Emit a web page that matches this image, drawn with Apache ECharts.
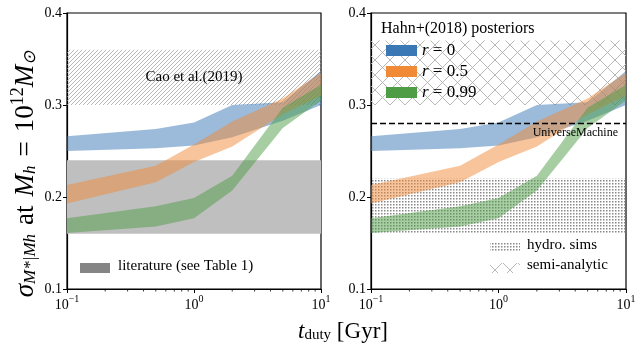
<!DOCTYPE html>
<html style="height:100%;width:100%;">
<head>
  <meta charset="utf-8">
  <title>sigma vs t_duty</title>
  <script src="https://cdn.jsdelivr.net/npm/echarts@6/dist/echarts.min.js"></script>
</head>
<body style="margin:0px;height:100%;width:100%;background:#fff;">
  <div id="main" style="width:642px;height:351px"></div>
  <script type="text/javascript" charset="utf-8">
    // data
    var tDuty = [0.1, 0.5, 1, 2, 5, 10]; // Gyr
    var r0Low = [0.250, 0.253, 0.256, 0.265, 0.283, 0.300];
    var r0High = [0.266, 0.274, 0.281, 0.300, 0.303, 0.337];
    var r05Low = [0.193, 0.216, 0.238, 0.255, 0.290, 0.310];
    var r05High = [0.213, 0.234, 0.257, 0.282, 0.307, 0.335];
    var r099Low = [0.161, 0.168, 0.177, 0.207, 0.275, 0.305];
    var r099High = [0.177, 0.190, 0.199, 0.223, 0.297, 0.322];
    var bandNames = ['r = 0', 'r = 0.5', 'r = 0.99'];
    var bandColors = ['#3a78b5', '#f08a37', '#4e9d45'];

    var litRange = [0.16, 0.24]; // literature (see Table 1)
    var caoRange = [0.30, 0.36]; // Cao et al.(2019)
    var hydroRange = [0.16, 0.22]; // hydro. sims
    var samRange = [0.30, 0.37]; // semi-analytic
    var umValue = 0.28; // UniverseMachine

    var minorX = [0.2, 0.3, 0.4, 0.5, 0.6, 0.7, 0.8, 0.9, 2, 3, 4, 5, 6, 7, 8, 9];
    var yTicks = [0.1, 0.2, 0.3, 0.4];

    var FONT = 'Liberation Serif';

    // hatch patterns
    function makePattern(kind) {
      var c = document.createElement('canvas');
      var ctx = c.getContext('2d');
      if (kind == 'diag') {
        c.width = 4; c.height = 4;
        ctx.strokeStyle = '#9a9a9a';
        ctx.lineWidth = 0.7;
        ctx.beginPath();
        ctx.moveTo(-1, 5); ctx.lineTo(5, -1);
        ctx.moveTo(-1, 1); ctx.lineTo(1, -1);
        ctx.moveTo(3, 5); ctx.lineTo(5, 3);
        ctx.stroke();
      } else if (kind == 'cross') {
        c.width = 15; c.height = 15;
        ctx.strokeStyle = '#b0b0b0';
        ctx.lineWidth = 0.9;
        ctx.beginPath();
        ctx.moveTo(0, 0); ctx.lineTo(15, 15);
        ctx.moveTo(15, 0); ctx.lineTo(0, 15);
        ctx.stroke();
      } else {
        c.width = 3; c.height = 3;
        ctx.fillStyle = '#888888';
        ctx.fillRect(0, 0, 1.5, 1.5);
      }
      return { image: c, repeat: 'repeat' };
    }
    var diagPat = makePattern('diag');
    var crossPat = makePattern('cross');
    var dotPat = makePattern('dot');

    var myChart = echarts.init(document.getElementById('main'));

    var lows = [r0Low, r05Low, r099Low];
    var highs = [r0High, r05High, r099High];

    var series = [];
    [0, 1].forEach(function (g) {
      // reference regions
      var areas = g == 0 ? [
        { range: litRange, color: '#bfbfbf', label: '' },
        { range: caoRange, color: diagPat, label: 'Cao et al.(2019)' }
      ] : [
        { range: hydroRange, color: dotPat, label: '' },
        { range: samRange, color: crossPat, label: '' }
      ];
      series.push({
        type: 'line',
        name: 'regions' + g,
        xAxisIndex: g,
        yAxisIndex: g,
        data: [],
        z: 1,
        silent: true,
        markArea: {
          silent: true,
          data: areas.map(function (a) {
            return [{
              yAxis: a.range[0],
              itemStyle: { color: a.color, opacity: 1 },
              label: {
                show: !!a.label, position: 'inside', formatter: a.label,
                color: '#000', fontFamily: FONT, fontSize: 15
              }
            }, { yAxis: a.range[1] }];
          })
        },
        markLine: g == 1 ? {
          silent: true,
          symbol: 'none',
          data: [{ yAxis: umValue }],
          lineStyle: { color: '#000', type: [6, 3], width: 1.3 },
          label: {
            position: 'insideEndBottom', formatter: 'UniverseMachine',
            color: '#000', fontFamily: FONT, fontSize: 12, distance: [8, 3]
          }
        } : undefined
      });
      // bands: one polygon per band, corners from the axes' coord()
      bandNames.forEach(function (name, k) {
        var lo = lows[k], hi = highs[k];
        series.push({
          type: 'custom', name: name, xAxisIndex: g, yAxisIndex: g,
          color: bandColors[k],
          data: tDuty.map(function (x, i) { return [x, lo[i], hi[i]]; }),
          encode: { x: 0, y: [1, 2] },
          renderItem: function (params, api) {
            if (params.dataIndex !== 0) return null;
            var pts = [];
            for (var i = 0; i < tDuty.length; i++) pts.push(api.coord([tDuty[i], hi[i]]));
            for (var j = tDuty.length - 1; j >= 0; j--) pts.push(api.coord([tDuty[j], lo[j]]));
            return {
              type: 'polygon',
              shape: { points: pts },
              style: { fill: bandColors[k], opacity: 0.5 }
            };
          },
          clip: true, z: 2, silent: true
        });
      });
      // minor ticks on the log axis
      series.push({
        type: 'custom', xAxisIndex: g, yAxisIndex: g, clip: false, silent: true,
        data: minorX.map(function (v) { return [v, yTicks[0]]; }),
        renderItem: function (params, api) {
          var p = api.coord([api.value(0), api.value(1)]);
          return {
            type: 'line',
            shape: { x1: p[0], y1: p[1], x2: p[0], y2: p[1] + 2.5 },
            style: { stroke: '#000', lineWidth: 0.8 }
          };
        },
        z: 5
      });
    });

    function supLabel(v) {
      var e = Math.round(Math.log10(v));
      return '{b|10}{s|' + (e < 0 ? '\u2212' + (-e) : e) + '}';
    }

    function xAxis(g) {
      return {
        type: 'log', logBase: 10, min: 0.1, max: 10, gridIndex: g,
        axisLine: { show: true, onZero: false, lineStyle: { color: '#000', width: 1.2 } },
        axisTick: { show: true, length: 4, lineStyle: { color: '#000', width: 1 } },
        splitLine: { show: false },
        axisLabel: {
          margin: 5, formatter: supLabel, color: '#000',
          rich: {
            b: { fontFamily: FONT, fontSize: 14, color: '#000', verticalAlign: 'bottom', lineHeight: 18 },
            s: { fontFamily: FONT, fontSize: 10, color: '#000', verticalAlign: 'top', padding: [0, 0, 8, 0], lineHeight: 18 }
          }
        }
      };
    }
    function yAxis(g) {
      return {
        type: 'value', min: 0.1, max: 0.4, interval: 0.1, gridIndex: g,
        axisLine: { show: true, lineStyle: { color: '#000', width: 1.2 } },
        axisTick: { show: true, length: 4, lineStyle: { color: '#000', width: 1 } },
        splitLine: { show: false },
        axisLabel: {
          margin: 5, color: '#000', fontFamily: FONT, fontSize: 14,
          formatter: function (v) { return v.toFixed(1); }
        }
      };
    }

    var option = {
      animation: false,
      grid: [
        { left: 67, top: 13, width: 254, height: 276, show: true, borderColor: '#000', borderWidth: 1.2, backgroundColor: 'transparent' },
        { left: 371, top: 13, width: 255, height: 276, show: true, borderColor: '#000', borderWidth: 1.2, backgroundColor: 'transparent' }
      ],
      xAxis: [xAxis(0), xAxis(1)],
      yAxis: [yAxis(0), yAxis(1)],
      legend: {
        data: bandNames.map(function (n, k) {
          return { name: n, icon: 'rect', itemStyle: { color: bandColors[k], opacity: 1 } };
        }),
        orient: 'vertical',
        left: 381, top: 37,
        itemWidth: 31, itemHeight: 11, itemGap: 4,
        selectedMode: false,
        formatter: function (n) {
          return '{i|r}{n|' + n.slice(1) + '}';
        },
        textStyle: {
          rich: {
            i: { fontFamily: FONT, fontStyle: 'italic', fontSize: 17, color: '#000', lineHeight: 17 },
            n: { fontFamily: FONT, fontSize: 17, color: '#000', lineHeight: 17 }
          }
        }
      },
      graphic: [
        {
          type: 'text', left: 381, top: 21, z: 10,
          style: { text: 'Hahn+(2018) posteriors', font: '16px ' + FONT, fill: '#000' }
        },
        { type: 'rect', shape: { x: 80, y: 263, width: 30, height: 10 }, style: { fill: '#858585' } },
        {
          type: 'text', left: 118, top: 259,
          style: { text: 'literature (see Table 1)', font: '15px ' + FONT, fill: '#000' }
        },
        { type: 'rect', shape: { x: 490, y: 243, width: 30, height: 9 }, style: { fill: dotPat } },
        {
          type: 'text', left: 527, top: 238,
          style: { text: 'hydro. sims', font: '15px ' + FONT, fill: '#000' }
        },
        { type: 'rect', shape: { x: 490, y: 263, width: 30, height: 10 }, style: { fill: crossPat } },
        {
          type: 'text', left: 527, top: 258,
          style: { text: 'semi-analytic', font: '15px ' + FONT, fill: '#000' }
        },
        {
          type: 'text', x: 343, y: 330,
          style: {
            text: '{t|t}{d|duty}{g| [Gyr]}',
            align: 'center', verticalAlign: 'middle',
            rich: {
              t: { fontFamily: FONT, fontStyle: 'italic', fontSize: 23, color: '#000', verticalAlign: 'bottom', lineHeight: 26 },
              d: { fontFamily: FONT, fontSize: 15, color: '#000', verticalAlign: 'bottom', lineHeight: 22 },
              g: { fontFamily: FONT, fontSize: 23, color: '#000', verticalAlign: 'bottom', lineHeight: 26 }
            }
          }
        },
        {
          type: 'text', x: 24, y: 174, rotation: Math.PI / 2,
          style: {
            text: '{a|\u03c3}{s|M*|Mh}{w|at}{a|M}{s|h}{w|=}{n|10}{p|12}{a|M}{s|\u2299}',
            align: 'center', verticalAlign: 'middle',
            rich: {
              a: { fontFamily: FONT, fontStyle: 'italic', fontSize: 27, color: '#000', verticalAlign: 'bottom', lineHeight: 30 },
              n: { fontFamily: FONT, fontSize: 27, color: '#000', verticalAlign: 'bottom', lineHeight: 30 },
              w: { fontFamily: FONT, fontSize: 27, color: '#000', verticalAlign: 'bottom', lineHeight: 30, padding: [0, 9, 0, 9] },
              s: { fontFamily: FONT, fontStyle: 'italic', fontSize: 17, color: '#000', verticalAlign: 'bottom', lineHeight: 24 },
              p: { fontFamily: FONT, fontSize: 18, color: '#000', verticalAlign: 'top', lineHeight: 30, padding: [0, 0, 12, 0] }
            }
          }
        }
      ],
      series: series
    };

    myChart.setOption(option, true);
  </script>
</body>
</html>
